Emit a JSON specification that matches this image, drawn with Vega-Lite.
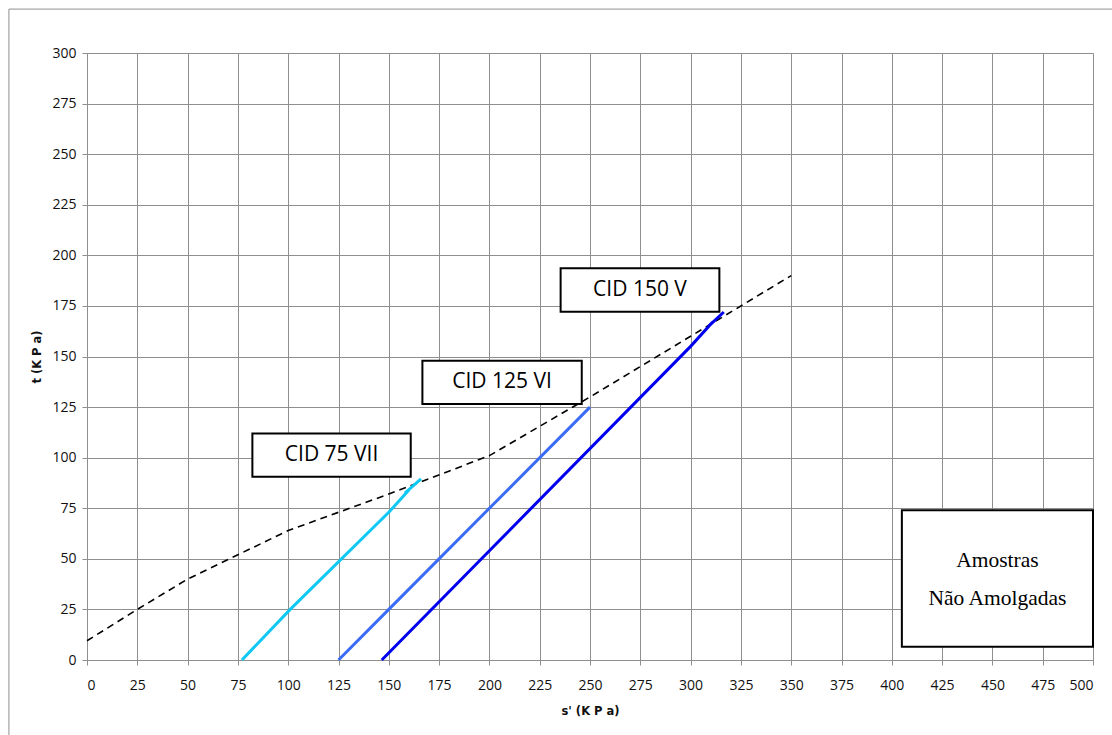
{
  "$schema": "https://vega.github.io/schema/vega-lite/v6.json",
  "width": 1006,
  "height": 607,
  "autosize": {"type": "none"},
  "padding": {"left": 87, "top": 53, "right": 19, "bottom": 75},
  "background": "white",
  "config": {
    "view": {"stroke": null},
    "font": "Open Sans",
    "axis": {
      "grid": true,
      "gridColor": "#8f8f8f",
      "gridWidth": 1,
      "gridOpacity": 1,
      "domainColor": "#8f8f8f",
      "domainWidth": 1,
      "tickColor": "#8f8f8f",
      "tickSize": 5,
      "labelFont": "Open Sans",
      "labelFontSize": 14,
      "labelColor": "#111111",
      "titleFont": "DejaVu Sans",
      "titleFontSize": 11.5,
      "titleFontWeight": "bold",
      "titleColor": "#111111"
    }
  },
  "datasets": {
    "envelope": [
      {"s": 0, "t": 9.5},
      {"s": 25, "t": 25},
      {"s": 50, "t": 40},
      {"s": 75, "t": 52},
      {"s": 100, "t": 64},
      {"s": 150, "t": 82},
      {"s": 200, "t": 101},
      {"s": 250, "t": 130},
      {"s": 300, "t": 160},
      {"s": 350, "t": 190}
    ],
    "paths": [
      {"test": "CID 75 VII", "i": 0, "s": 77, "t": 0},
      {"test": "CID 75 VII", "i": 1, "s": 101, "t": 25},
      {"test": "CID 75 VII", "i": 2, "s": 150, "t": 73},
      {"test": "CID 75 VII", "i": 3, "s": 160, "t": 84},
      {"test": "CID 75 VII", "i": 4, "s": 158, "t": 82.5},
      {"test": "CID 75 VII", "i": 5, "s": 166, "t": 89.5},
      {"test": "CID 125 VI", "i": 0, "s": 125, "t": 0},
      {"test": "CID 125 VI", "i": 1, "s": 150, "t": 25},
      {"test": "CID 125 VI", "i": 2, "s": 200, "t": 75},
      {"test": "CID 125 VI", "i": 3, "s": 250, "t": 125},
      {"test": "CID 150 V", "i": 0, "s": 146.5, "t": 0},
      {"test": "CID 150 V", "i": 1, "s": 200, "t": 54},
      {"test": "CID 150 V", "i": 2, "s": 300, "t": 155},
      {"test": "CID 150 V", "i": 3, "s": 311, "t": 167},
      {"test": "CID 150 V", "i": 4, "s": 309, "t": 165},
      {"test": "CID 150 V", "i": 5, "s": 316.5, "t": 172}
    ],
    "tags": [
      {"label": "CID 75 VII", "x1": 82.2, "x2": 160.9, "y1": 90.6, "y2": 112},
      {"label": "CID 125 VI", "x1": 166.7, "x2": 245.9, "y1": 126.5, "y2": 147.9},
      {"label": "CID 150 V", "x1": 235.4, "x2": 314.3, "y1": 172.1, "y2": 193.6}
    ],
    "note": [
      {"label": "Amostras\nNão Amolgadas", "x1": 405, "x2": 500, "y1": 6.6, "y2": 74}
    ]
  },
  "layer": [
    {
      "data": {"name": "envelope"},
      "mark": {"type": "line", "color": "#000000", "strokeWidth": 1.6, "strokeDash": [7, 5]},
      "encoding": {
        "x": {
          "field": "s",
          "type": "quantitative",
          "scale": {"domain": [0, 500], "nice": false},
          "axis": {
            "values": [0, 25, 50, 75, 100, 125, 150, 175, 200, 225, 250, 275, 300, 325, 350, 375, 400, 425, 450, 475, 500],
            "title": "s' (K P a)",
            "labelPadding": 13,
            "titlePadding": 13
          }
        },
        "y": {
          "field": "t",
          "type": "quantitative",
          "scale": {"domain": [0, 300], "nice": false},
          "axis": {
            "values": [0, 25, 50, 75, 100, 125, 150, 175, 200, 225, 250, 275, 300],
            "title": "t (K P a)",
            "labelPadding": 6,
            "titlePadding": 9
          }
        }
      }
    },
    {
      "data": {"name": "paths"},
      "mark": {"type": "line", "strokeWidth": 3},
      "encoding": {
        "x": {"field": "s", "type": "quantitative"},
        "y": {"field": "t", "type": "quantitative"},
        "order": {"field": "i", "type": "quantitative"},
        "color": {
          "field": "test",
          "type": "nominal",
          "scale": {
            "domain": ["CID 75 VII", "CID 125 VI", "CID 150 V"],
            "range": ["#10c8f4", "#3a6cf5", "#0000ee"]
          },
          "legend": null
        }
      }
    },
    {
      "data": {"name": "tags"},
      "mark": {"type": "rect", "fill": "white", "stroke": "#000000", "strokeWidth": 2},
      "encoding": {
        "x": {"field": "x1", "type": "quantitative"},
        "x2": {"field": "x2"},
        "y": {"field": "y1", "type": "quantitative"},
        "y2": {"field": "y2"}
      }
    },
    {
      "data": {"name": "tags"},
      "transform": [
        {"calculate": "(datum.x1 + datum.x2) / 2", "as": "xc"},
        {"calculate": "(datum.y1 + datum.y2) / 2", "as": "yc"}
      ],
      "mark": {"type": "text", "font": "Open Sans", "fontSize": 21, "color": "#000000", "align": "center", "baseline": "middle"},
      "encoding": {
        "x": {"field": "xc", "type": "quantitative"},
        "y": {"field": "yc", "type": "quantitative"},
        "text": {"field": "label"}
      }
    },
    {
      "data": {"name": "note"},
      "mark": {"type": "rect", "fill": "white", "stroke": "#000000", "strokeWidth": 2},
      "encoding": {
        "x": {"field": "x1", "type": "quantitative"},
        "x2": {"field": "x2"},
        "y": {"field": "y1", "type": "quantitative"},
        "y2": {"field": "y2"}
      }
    },
    {
      "data": {"name": "note"},
      "transform": [
        {"calculate": "(datum.x1 + datum.x2) / 2", "as": "xc"},
        {"calculate": "(datum.y1 + datum.y2) / 2", "as": "yc"}
      ],
      "mark": {"type": "text", "font": "Liberation Serif", "fontSize": 21.5, "lineHeight": 38, "lineBreak": "\n", "color": "#000000", "align": "center", "baseline": "middle", "dy": -17},
      "encoding": {
        "x": {"field": "xc", "type": "quantitative"},
        "y": {"field": "yc", "type": "quantitative"},
        "text": {"field": "label"}
      }
    },
    {
      "data": {"values": [{}]},
      "mark": {"type": "rule", "color": "#8f8f8f", "strokeWidth": 1, "clip": false},
      "encoding": {
        "x": {"datum": -38.8},
        "y": {"datum": -50},
        "y2": {"datum": 321.7}
      }
    },
    {
      "data": {"values": [{}]},
      "mark": {"type": "rule", "color": "#8f8f8f", "strokeWidth": 1, "clip": false},
      "encoding": {
        "y": {"datum": 321.7},
        "x": {"datum": -38.8},
        "x2": {"datum": 560}
      }
    }
  ]
}
